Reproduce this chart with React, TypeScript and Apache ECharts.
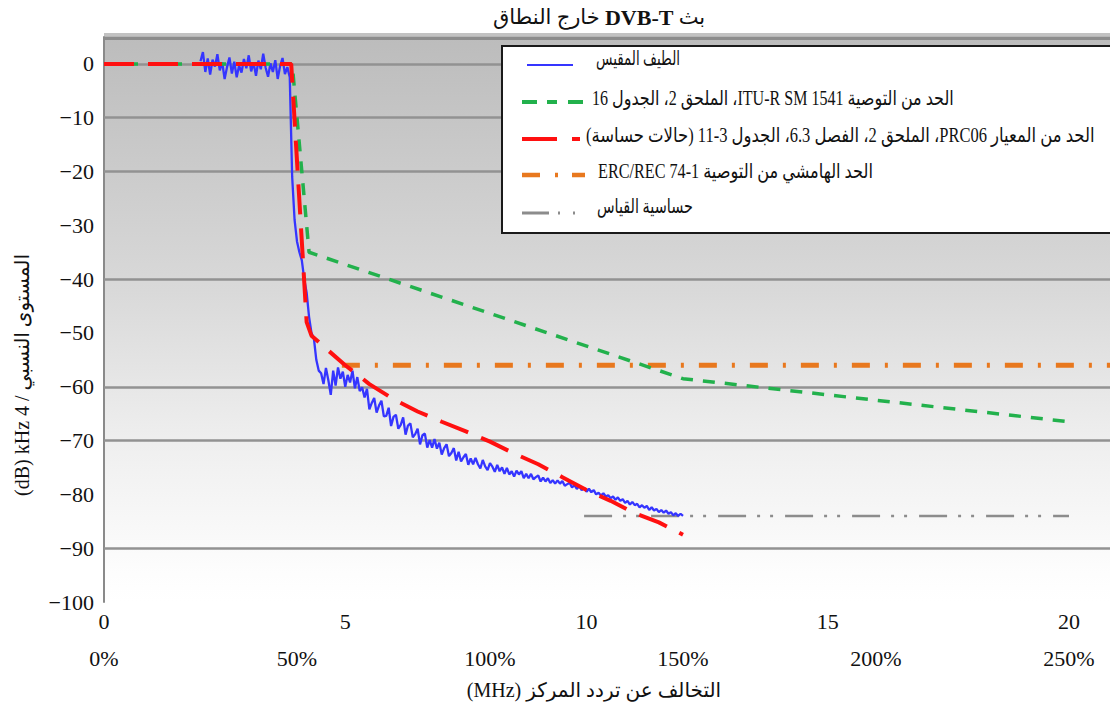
import React, { useEffect, useRef } from 'react';
import * as echarts from 'echarts';

// Measured spectrum: evenly spaced analyser bins from 2 MHz to 12 MHz
const spectrumStartMHz = 2.0;
const spectrumStepMHz = 0.05;
const measuredLevels = [
  // 2.00 – 3.85 MHz (in-band)
  0.5, 2.2, -1.5, 1.0, -2.0, 0.8, -0.5, 1.8, -1.2, 0.3,
  -2.8, -0.6, 1.2, -1.8, 0.4, -2.5, -0.3, -1.6, 0.9, -0.8,
  1.6, -1.4, 0.2, -2.2, 0.6, -1.0, 1.9, -0.7, -2.4, 0.1,
  -1.5, 0.7, -2.8, -0.4, 1.1, -1.9, -0.6, -2.5,
  // 3.90 – 4.45 MHz (channel edge)
  -21, -29, -33, -35, -36.5, -40, -42.5, -47, -50, -51, -55, -57,
  // 4.50 – 5.30 MHz
  -57.5, -59.5, -56.5, -58.8, -61.5, -57.0, -59.8, -56.4, -58.5, -57.2,
  -60.0, -57.8, -59.2, -57.0, -60.3, -58.2, -60.8,
  // 5.35 – 12.00 MHz
  -60.1, -62.0, -60.4, -64.2, -63.0, -62.1, -64.8, -63.5, -62.6, -65.5,
  -65.4, -63.9, -67.3, -65.6, -65.2, -67.8, -67.1, -65.7, -68.9, -67.2,
  -66.8, -69.4, -68.8, -67.8, -70.7, -69.0, -68.7, -71.3, -69.9, -71.3,
  -69.7, -71.5, -70.4, -72.6, -71.4, -70.7, -72.9, -72.3, -71.4, -73.7,
  -72.1, -73.9, -73.1, -72.5, -74.5, -73.3, -74.4, -73.2, -74.4, -75.2,
  -73.6, -74.8, -75.5, -74.2, -74.85, -75.8, -74.5, -75.7, -75.0, -76.2,
  -75.1, -76.3, -75.7, -76.7, -75.6, -76.3, -75.7, -77.0, -76.2, -77.0,
  -76.2, -77.2, -76.8, -76.5, -77.6, -76.9, -77.6, -77.0, -77.9, -77.35,
  -78.0, -77.4, -78.0, -77.5, -78.4, -78.1, -77.85, -78.7, -78.3, -79.0,
  -78.45, -79.2, -78.8, -79.5, -78.95, -79.6, -79.2, -80.0, -79.7, -80.2,
  -79.8, -80.4, -80.15, -80.7, -80.4, -81.0, -80.55, -81.2, -80.9, -81.6,
  -81.2, -81.9, -81.4, -82.0, -81.75, -82.4, -82.0, -82.5, -82.15, -82.9,
  -82.4, -83.0, -82.7, -83.3, -82.9, -83.4, -83.0, -83.6, -83.3, -83.9,
  -83.5, -84.0, -83.6, -84.0,
];

// Limit masks as [offset MHz, level dB]
const itu1541Limit = [[0, 0], [3.9, 0], [4.25, -35], [12, -58.5], [20, -66.5]];
const prc06Limit = [
  [0, 0], [3.88, 0], [4.2, -48], [4.3, -50.5], [4.64, -53.2], [5, -56], [5.5, -59.5],
  [6, -62.3], [6.5, -64.6], [7, -66.5], [7.5, -68.3], [8, -70.2], [8.5, -72.4],
  [9, -74.4], [9.5, -76.8], [10, -79.2], [10.5, -81.2], [11, -83.5], [11.5, -85.2], [12, -87.5],
];
const erc7401Limit = [[4.93, -56], [20.85, -56]];
const sensitivityFloor = [[9.95, -84], [20, -84]];

const gridLevels = [0, -10, -20, -40, -60, -70, -90];
const channelWidthMHz = 8;

const seriesNames = [
  'الطيف المقيس',
  'الحد من التوصية ITU-R SM 1541، الملحق 2، الجدول 16',
  'الحد من المعيار PRC06، الملحق 2، الفصل 6.3، الجدول 3-11 (حالات حساسة)',
  'الحد الهامشي من التوصية ERC/REC 74-1',
  'حساسية القياس',
];

const titleParts = ['خارج النطاق', 'DVB-T', 'بث'];
const xAxisTitle = '(MHz) التخالف عن تردد المركز';
const yAxisTitle = '(dB) kHz 4 / المستوى النسبي';

const SERIF = '"Liberation Serif", "Times New Roman", "DejaVu Sans", serif';
const COLORS = {
  measured: '#3535ff',
  itu: '#22b14c',
  prc: '#ff1010',
  erc: '#e8781e',
  floor: '#8c8c8c',
};

const rtl = (s: string) => '\u202B' + s + '\u202C';

// horizontal squeeze so each legend caption spans its box width
function fitScale(text: string, font: string, width: number) {
  const ctx = document.createElement('canvas').getContext('2d');
  if (!ctx) return 1;
  ctx.font = font;
  const w = ctx.measureText(text).width;
  return w > 0 ? Math.min(1, width / w) : 1;
}

export default function App() {
  const ref = useRef<HTMLDivElement>(null);

  useEffect(() => {
    if (!ref.current) return;
    const chart = echarts.init(ref.current, undefined, { renderer: 'svg' });

    const spectrum = measuredLevels.map((v, i) => [
      +(spectrumStartMHz + i * spectrumStepMHz).toFixed(2),
      v,
    ]);

    const legendFont = `20px ${SERIF}`;
    const legendY = [65, 102, 139, 175, 213];
    const textY = [59, 98, 135, 171, 206];
    const textX = [596, 592, 586, 598, 597];
    const textWidth = [84, 362, 509, 275, 96];
    const legendSamples: any[] = [
      { x1: 527, x2: 573, stroke: COLORS.measured, lineWidth: 2, lineDash: null },
      { x1: 522, x2: 583, stroke: COLORS.itu, lineWidth: 4, lineDash: [15, 10, 10, 11] },
      { x1: 522, x2: 580, stroke: COLORS.prc, lineWidth: 4, lineDash: [35, 15] },
      { x1: 522, x2: 585, stroke: COLORS.erc, lineWidth: 4.5, lineDash: [18, 15, 3, 14] },
      { x1: 522, x2: 576, stroke: COLORS.floor, lineWidth: 3, lineDash: [27, 9, 2, 13, 2] },
    ];

    const legendElements: any[] = [
      {
        type: 'rect',
        shape: { x: 502, y: 46, width: 620, height: 187 },
        style: { fill: '#ffffff', stroke: '#1a1a1a', lineWidth: 2 },
        z: 100,
      },
    ];
    legendSamples.forEach((s, i) => {
      const caption = rtl(seriesNames[i]);
      legendElements.push({
        type: 'line',
        shape: { x1: s.x1, y1: legendY[i], x2: s.x2, y2: legendY[i] },
        style: { stroke: s.stroke, lineWidth: s.lineWidth, lineDash: s.lineDash || undefined },
        z: 101,
      });
      legendElements.push({
        type: 'text',
        x: textX[i],
        y: textY[i],
        scaleX: fitScale(caption, legendFont, textWidth[i]),
        style: {
          text: caption,
          font: legendFont,
          fill: '#111',
          align: 'left',
          verticalAlign: 'middle',
        },
        z: 101,
      });
    });

    const option: any = {
      animation: false,
      backgroundColor: '#ffffff',
      grid: {
        left: 104,
        right: 0,
        top: 37,
        bottom: 108,
        show: true,
        borderWidth: 0,
        backgroundColor: new echarts.graphic.LinearGradient(0, 0, 0, 1, [
          { offset: 0, color: '#bcbcbc' },
          { offset: 0.45, color: '#d9d9d9' },
          { offset: 0.72, color: '#efefef' },
          { offset: 0.95, color: '#fdfdfd' },
          { offset: 1, color: '#ffffff' },
        ]),
      },
      xAxis: [
        {
          type: 'value',
          min: 0,
          max: 20.85,
          interval: 5,
          axisLine: { show: false },
          axisTick: { show: false },
          splitLine: { show: false },
          axisLabel: {
            fontSize: 22,
            fontFamily: SERIF,
            color: '#111',
            margin: 8,
            showMaxLabel: false,
            formatter: (v: number) => (v % 5 === 0 && v <= 20 ? String(v) : ''),
          },
        },
        {
          type: 'value',
          min: 0,
          max: 20.85,
          interval: 4,
          position: 'bottom',
          offset: 37,
          axisLine: { show: false },
          axisTick: { show: false },
          splitLine: { show: false },
          axisLabel: {
            fontSize: 22,
            fontFamily: SERIF,
            color: '#111',
            margin: 8,
            showMaxLabel: false,
            formatter: (v: number) =>
              v % 4 === 0 && v <= 20 ? `${Math.round((v / channelWidthMHz) * 100)}%` : '',
          },
        },
      ],
      yAxis: {
        type: 'value',
        min: -100,
        max: 5,
        interval: 10,
        axisLine: { show: true, lineStyle: { color: '#8a8a8a', width: 2 } },
        axisTick: { show: false },
        splitLine: { show: false },
        axisLabel: {
          fontSize: 22,
          fontFamily: SERIF,
          color: '#111',
          margin: 10,
          showMaxLabel: false,
          formatter: (v: number) => (v % 10 === 0 ? String(v).replace('-', '\u2212') : ''),
        },
      },
      series: [
        {
          name: seriesNames[4],
          type: 'line',
          data: sensitivityFloor,
          symbol: 'none',
          z: 3,
          lineStyle: { color: COLORS.floor, width: 2.5, type: [28, 11, 3, 10, 3, 12] },
          markLine: {
            silent: true,
            symbol: 'none',
            z: 2,
            label: { show: false },
            lineStyle: { color: '#929292', width: 2.5, type: 'solid' },
            data: gridLevels.map((v) => ({ yAxis: v })),
          },
        },
        {
          name: seriesNames[3],
          type: 'line',
          data: erc7401Limit,
          symbol: 'none',
          z: 3,
          lineStyle: { color: COLORS.erc, width: 5, type: [18, 15, 3, 15] },
        },
        {
          name: seriesNames[0],
          type: 'line',
          data: spectrum,
          symbol: 'none',
          z: 3,
          lineStyle: { color: COLORS.measured, width: 2.3 },
        },
        {
          name: seriesNames[1],
          type: 'line',
          data: itu1541Limit,
          symbol: 'none',
          z: 3,
          lineStyle: { color: COLORS.itu, width: 3.5, type: [12, 10] },
        },
        {
          name: seriesNames[2],
          type: 'line',
          data: prc06Limit,
          symbol: 'none',
          z: 3,
          lineStyle: { color: COLORS.prc, width: 4, type: [30, 14] },
        },
      ],
      graphic: [
        // frame band along the top of the plot
        {
          type: 'rect',
          shape: { x: 104, y: 33, width: 1010, height: 3.5 },
          style: { fill: '#c2c2c2' },
          z: 50,
        },
        {
          type: 'rect',
          shape: { x: 104, y: 36.5, width: 1010, height: 3.5 },
          style: { fill: '#8c8c8c' },
          z: 50,
        },
        {
          type: 'text',
          x: 599,
          y: 17,
          style: {
            text: `{a|${titleParts[0]}} {b|${titleParts[1]}} {a|${titleParts[2]}}`,
            align: 'center',
            verticalAlign: 'middle',
            font: `21px ${SERIF}`,
            fill: '#111',
            rich: {
              a: { font: `21px ${SERIF}`, fill: '#111' },
              b: { font: `bold 22px ${SERIF}`, fill: '#111' },
            },
          },
          z: 50,
        },
        {
          type: 'text',
          x: 594,
          y: 690,
          style: {
            text: xAxisTitle,
            font: `20px ${SERIF}`,
            fill: '#111',
            align: 'center',
            verticalAlign: 'middle',
          },
          z: 50,
        },
        {
          type: 'text',
          x: 22,
          y: 375,
          rotation: Math.PI / 2,
          style: {
            text: yAxisTitle,
            font: `20px ${SERIF}`,
            fill: '#111',
            align: 'center',
            verticalAlign: 'middle',
          },
          z: 50,
        },
        ...legendElements,
      ],
    };

    chart.setOption(option);
    return () => chart.dispose();
  }, []);

  return (
    <div
      ref={ref}
      style={{ position: 'absolute', left: 0, top: 0, width: 1110, height: 710, background: '#fff' }}
    />
  );
}
